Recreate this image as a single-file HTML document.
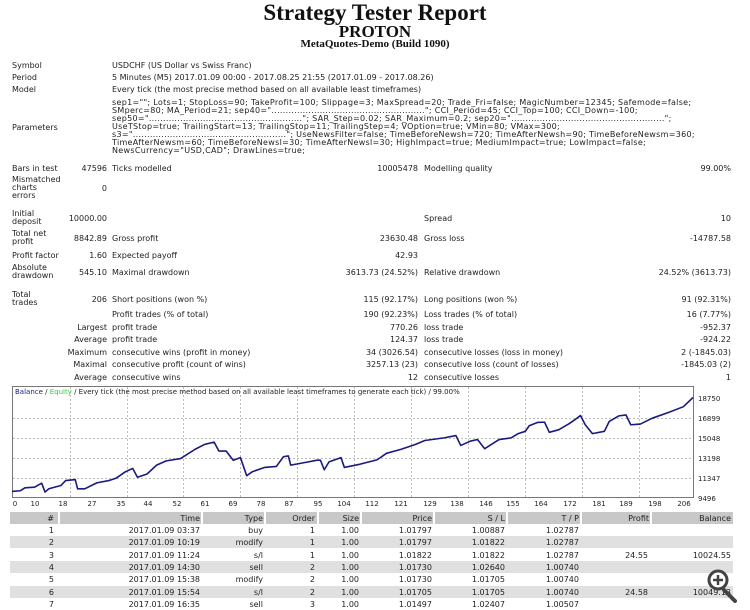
<!DOCTYPE html>
<html><head><meta charset="utf-8"><style>
body{margin:0;width:750px;height:610px;background:#fff;position:relative;overflow:hidden;font-family:"DejaVu Sans","Liberation Sans",sans-serif;font-size:8px;color:#222}
.a{position:absolute;white-space:nowrap;line-height:9px}
.r{text-align:right}
.t{font-family:"Liberation Serif",serif;font-weight:bold;color:#111;text-align:center;width:750px;left:0}
.row{position:absolute;left:10px;width:723px;height:12px}
.g{background:#e0e0e0}
.h{background:#c8c8c8}
.c{position:absolute;top:2px;text-align:right;white-space:nowrap;line-height:9px}
.sep{position:absolute;top:0;width:2px;height:12px;background:#fff}
</style></head><body>
<div class="a t" style="top:0px;font-size:23px;line-height:25px">Strategy Tester Report</div>
<div class="a t" style="top:23px;font-size:17px;line-height:17px">PROTON</div>
<div class="a t" style="top:38px;font-size:11px;line-height:12px">MetaQuotes-Demo (Build 1090)</div>

<div class="a" style="left:12px;top:61px">Symbol</div><div class="a" style="left:112px;top:61px">USDCHF (US Dollar vs Swiss Franc)</div>
<div class="a" style="left:12px;top:73px">Period</div><div class="a" style="left:112px;top:73px">5 Minutes (M5) 2017.01.09 00:00 - 2017.08.25 21:55 (2017.01.09 - 2017.08.26)</div>
<div class="a" style="left:12px;top:85px">Model</div><div class="a" style="left:112px;top:85px">Every tick (the most precise method based on all available least timeframes)</div>
<div class="a" style="left:12px;top:123px">Parameters</div>
<div class="a" style="left:112px;top:99px;line-height:8px;letter-spacing:0.3px">sep1=""; Lots=1; StopLoss=90; TakeProfit=100; Slippage=3; MaxSpread=20; Trade_Fri=false; MagicNumber=12345; Safemode=false;<br>SMperc=80; MA_Period=21; sep40="......................................................"; CCI_Period=45; CCI_Top=100; CCI_Down=-100;<br>sep50="......................................................"; SAR_Step=0.02; SAR_Maximum=0.2; sep20="......................................................";<br>UseTStop=true; TrailingStart=13; TrailingStop=11; TrailingStep=4; VOption=true; VMin=80; VMax=300;<br>s3="......................................................"; UseNewsFilter=false; TimeBeforeNewsh=720; TimeAfterNewsh=90; TimeBeforeNewsm=360;<br>TimeAfterNewsm=60; TimeBeforeNewsl=30; TimeAfterNewsl=30; HighImpact=true; MediumImpact=true; LowImpact=false;<br>NewsCurrency="USD,CAD"; DrawLines=true;</div>

<div class="a" style="left:12px;top:164px">Bars in test</div><div class="a r" style="right:643px;top:164px">47596</div><div class="a" style="left:112px;top:164px">Ticks modelled</div><div class="a r" style="right:332px;top:164px">10005478</div><div class="a" style="left:424px;top:164px">Modelling quality</div><div class="a r" style="right:19px;top:164px">99.00%</div>
<div class="a" style="left:12px;top:176px;line-height:8px">Mismatched<br>charts<br>errors</div><div class="a r" style="right:643px;top:184px">0</div>
<div class="a" style="left:12px;top:210px;line-height:8px">Initial<br>deposit</div><div class="a r" style="right:643px;top:214px">10000.00</div><div class="a" style="left:424px;top:214px">Spread</div><div class="a r" style="right:19px;top:214px">10</div>
<div class="a" style="left:12px;top:230px;line-height:8px">Total net<br>profit</div><div class="a r" style="right:643px;top:234px">8842.89</div><div class="a" style="left:112px;top:234px">Gross profit</div><div class="a r" style="right:332px;top:234px">23630.48</div><div class="a" style="left:424px;top:234px">Gross loss</div><div class="a r" style="right:19px;top:234px">-14787.58</div>
<div class="a" style="left:12px;top:251px">Profit factor</div><div class="a r" style="right:643px;top:251px">1.60</div><div class="a" style="left:112px;top:251px">Expected payoff</div><div class="a r" style="right:332px;top:251px">42.93</div>
<div class="a" style="left:12px;top:264px;line-height:8px">Absolute<br>drawdown</div><div class="a r" style="right:643px;top:268px">545.10</div><div class="a" style="left:112px;top:268px">Maximal drawdown</div><div class="a r" style="right:332px;top:268px">3613.73 (24.52%)</div><div class="a" style="left:424px;top:268px">Relative drawdown</div><div class="a r" style="right:19px;top:268px">24.52% (3613.73)</div>
<div class="a" style="left:12px;top:291px;line-height:8px">Total<br>trades</div><div class="a r" style="right:643px;top:295px">206</div><div class="a" style="left:112px;top:295px">Short positions (won %)</div><div class="a r" style="right:332px;top:295px">115 (92.17%)</div><div class="a" style="left:424px;top:295px">Long positions (won %)</div><div class="a r" style="right:19px;top:295px">91 (92.31%)</div>
<div class="a" style="left:112px;top:310px">Profit trades (% of total)</div><div class="a r" style="right:332px;top:310px">190 (92.23%)</div><div class="a" style="left:424px;top:310px">Loss trades (% of total)</div><div class="a r" style="right:19px;top:310px">16 (7.77%)</div>
<div class="a r" style="right:643px;top:323px">Largest</div><div class="a" style="left:112px;top:323px">profit trade</div><div class="a r" style="right:332px;top:323px">770.26</div><div class="a" style="left:424px;top:323px">loss trade</div><div class="a r" style="right:19px;top:323px">-952.37</div>
<div class="a r" style="right:643px;top:335px">Average</div><div class="a" style="left:112px;top:335px">profit trade</div><div class="a r" style="right:332px;top:335px">124.37</div><div class="a" style="left:424px;top:335px">loss trade</div><div class="a r" style="right:19px;top:335px">-924.22</div>
<div class="a r" style="right:643px;top:348px">Maximum</div><div class="a" style="left:112px;top:348px">consecutive wins (profit in money)</div><div class="a r" style="right:332px;top:348px">34 (3026.54)</div><div class="a" style="left:424px;top:348px">consecutive losses (loss in money)</div><div class="a r" style="right:19px;top:348px">2 (-1845.03)</div>
<div class="a r" style="right:643px;top:360px">Maximal</div><div class="a" style="left:112px;top:360px">consecutive profit (count of wins)</div><div class="a r" style="right:332px;top:360px">3257.13 (23)</div><div class="a" style="left:424px;top:360px">consecutive loss (count of losses)</div><div class="a r" style="right:19px;top:360px">-1845.03 (2)</div>
<div class="a r" style="right:643px;top:373px">Average</div><div class="a" style="left:112px;top:373px">consecutive wins</div><div class="a r" style="right:332px;top:373px">12</div><div class="a" style="left:424px;top:373px">consecutive losses</div><div class="a r" style="right:19px;top:373px">1</div>

<svg style="position:absolute;left:0;top:0" width="750" height="610">
<rect x="12.5" y="386.5" width="681" height="111" fill="#fff" stroke="#777"/>
<g stroke="#bbb" stroke-dasharray="2,2" stroke-width="1">
<line x1="13" x2="693" y1="418.5" y2="418.5"/><line x1="13" x2="693" y1="438.5" y2="438.5"/><line x1="13" x2="693" y1="458.5" y2="458.5"/><line x1="13" x2="693" y1="478.5" y2="478.5"/>
<line x1="70.5" x2="70.5" y1="387" y2="497"/><line x1="127.5" x2="127.5" y1="387" y2="497"/><line x1="183.5" x2="183.5" y1="387" y2="497"/><line x1="240.5" x2="240.5" y1="387" y2="497"/><line x1="297.5" x2="297.5" y1="387" y2="497"/><line x1="354.5" x2="354.5" y1="387" y2="497"/><line x1="411.5" x2="411.5" y1="387" y2="497"/><line x1="468.5" x2="468.5" y1="387" y2="497"/><line x1="525.5" x2="525.5" y1="387" y2="497"/><line x1="582.5" x2="582.5" y1="387" y2="497"/><line x1="639.5" x2="639.5" y1="387" y2="497"/>
</g>
<g transform="translate(12,386) scale(0.4789,0.3284) translate(-28,-17)">
<polyline fill="none" stroke="#1a1a80" stroke-width="1.6" vector-effect="non-scaling-stroke" stroke-linejoin="round" points="28,338 45,336 55,327 75,325 90,313 97,340 105,330 130,320 140,305 160,302 165,330 180,330 205,312 230,305 245,298 265,278 280,268 290,295 310,285 330,258 350,245 380,238 410,210 430,195 450,188 460,215 475,215 490,243 505,235 518,290 530,278 555,265 580,262 595,232 605,230 610,258 640,250 665,243 672,243 680,272 690,248 715,235 722,265 755,255 790,242 810,222 840,210 870,195 890,183 930,175 955,168 965,198 985,185 1000,180 1015,208 1045,180 1070,175 1085,162 1100,155 1108,138 1125,128 1140,127 1150,158 1170,150 1190,133 1205,118 1215,107 1225,135 1240,162 1265,155 1275,125 1295,108 1310,105 1320,135 1340,133 1365,115 1400,97 1430,80 1450,52"/>
</g>
<g font-family="DejaVu Sans, sans-serif" font-size="7" fill="#222">
<text x="698" y="401">18750</text><text x="698" y="421">16899</text><text x="698" y="441">15048</text><text x="698" y="461">13198</text><text x="698" y="481">11347</text><text x="698" y="501">9496</text>
<g text-anchor="middle">
<text x="15" y="506">0</text><text x="35" y="506">10</text><text x="63" y="506">18</text><text x="92" y="506">27</text><text x="121" y="506">35</text><text x="148" y="506">44</text><text x="177" y="506">52</text><text x="205" y="506">61</text><text x="233" y="506">69</text><text x="261" y="506">78</text><text x="289" y="506">87</text><text x="318" y="506">95</text><text x="344" y="506">104</text><text x="372" y="506">112</text><text x="401" y="506">121</text><text x="430" y="506">129</text><text x="457" y="506">138</text><text x="486" y="506">146</text><text x="513" y="506">155</text><text x="541" y="506">164</text><text x="570" y="506">172</text><text x="599" y="506">181</text><text x="626" y="506">189</text><text x="655" y="506">198</text><text x="684" y="506">206</text>
</g>
<text x="15" y="394" font-size="7"><tspan fill="#1a1a80">Balance</tspan> / <tspan fill="#3c3">Equity</tspan> / Every tick (the most precise method based on all available least timeframes to generate each tick) / 99.00%</text>
</g>
</svg>

<div class="row h" style="top:512px">
<div class="c" style="right:679px">#</div><div class="sep" style="left:48px"></div>
<div class="c" style="right:533px">Time</div><div class="sep" style="left:191px"></div>
<div class="c" style="right:470px">Type</div><div class="sep" style="left:254px"></div>
<div class="c" style="right:418px">Order</div><div class="sep" style="left:307px"></div>
<div class="c" style="right:374px">Size</div><div class="sep" style="left:350px"></div>
<div class="c" style="right:301px">Price</div><div class="sep" style="left:423px"></div>
<div class="c" style="right:228px">S / L</div><div class="sep" style="left:496px"></div>
<div class="c" style="right:154px">T / P</div><div class="sep" style="left:570px"></div>
<div class="c" style="right:84px">Profit</div><div class="sep" style="left:640px"></div>
<div class="c" style="right:2px">Balance</div>
</div>
<div class="row" style="top:524px"><div class="c" style="right:679px">1</div><div class="c" style="right:533px">2017.01.09 03:37</div><div class="c" style="right:470px">buy</div><div class="c" style="right:418px">1</div><div class="c" style="right:374px">1.00</div><div class="c" style="right:301px">1.01797</div><div class="c" style="right:228px">1.00887</div><div class="c" style="right:154px">1.02787</div></div>
<div class="row g" style="top:536px"><div class="c" style="right:679px">2</div><div class="c" style="right:533px">2017.01.09 10:19</div><div class="c" style="right:470px">modify</div><div class="c" style="right:418px">1</div><div class="c" style="right:374px">1.00</div><div class="c" style="right:301px">1.01797</div><div class="c" style="right:228px">1.01822</div><div class="c" style="right:154px">1.02787</div></div>
<div class="row" style="top:549px"><div class="c" style="right:679px">3</div><div class="c" style="right:533px">2017.01.09 11:24</div><div class="c" style="right:470px">s/l</div><div class="c" style="right:418px">1</div><div class="c" style="right:374px">1.00</div><div class="c" style="right:301px">1.01822</div><div class="c" style="right:228px">1.01822</div><div class="c" style="right:154px">1.02787</div><div class="c" style="right:85px">24.55</div><div class="c" style="right:2px">10024.55</div></div>
<div class="row g" style="top:561px"><div class="c" style="right:679px">4</div><div class="c" style="right:533px">2017.01.09 14:30</div><div class="c" style="right:470px">sell</div><div class="c" style="right:418px">2</div><div class="c" style="right:374px">1.00</div><div class="c" style="right:301px">1.01730</div><div class="c" style="right:228px">1.02640</div><div class="c" style="right:154px">1.00740</div></div>
<div class="row" style="top:573px"><div class="c" style="right:679px">5</div><div class="c" style="right:533px">2017.01.09 15:38</div><div class="c" style="right:470px">modify</div><div class="c" style="right:418px">2</div><div class="c" style="right:374px">1.00</div><div class="c" style="right:301px">1.01730</div><div class="c" style="right:228px">1.01705</div><div class="c" style="right:154px">1.00740</div></div>
<div class="row g" style="top:586px"><div class="c" style="right:679px">6</div><div class="c" style="right:533px">2017.01.09 15:54</div><div class="c" style="right:470px">s/l</div><div class="c" style="right:418px">2</div><div class="c" style="right:374px">1.00</div><div class="c" style="right:301px">1.01705</div><div class="c" style="right:228px">1.01705</div><div class="c" style="right:154px">1.00740</div><div class="c" style="right:85px">24.58</div><div class="c" style="right:2px">10049.13</div></div>
<div class="row" style="top:598px"><div class="c" style="right:679px">7</div><div class="c" style="right:533px">2017.01.09 16:35</div><div class="c" style="right:470px">sell</div><div class="c" style="right:418px">3</div><div class="c" style="right:374px">1.00</div><div class="c" style="right:301px">1.01497</div><div class="c" style="right:228px">1.02407</div><div class="c" style="right:154px">1.00507</div></div>

<svg style="position:absolute;left:700px;top:566px" width="40" height="40">
<line x1="24" y1="24" x2="35" y2="35" stroke="#444" stroke-width="4" stroke-linecap="round"/>
<circle cx="18" cy="14" r="9" fill="#fff" stroke="#444" stroke-width="3"/>
<path d="M18 9v10M13 14h10" stroke="#444" stroke-width="2.5"/>
</svg>
</body></html>
